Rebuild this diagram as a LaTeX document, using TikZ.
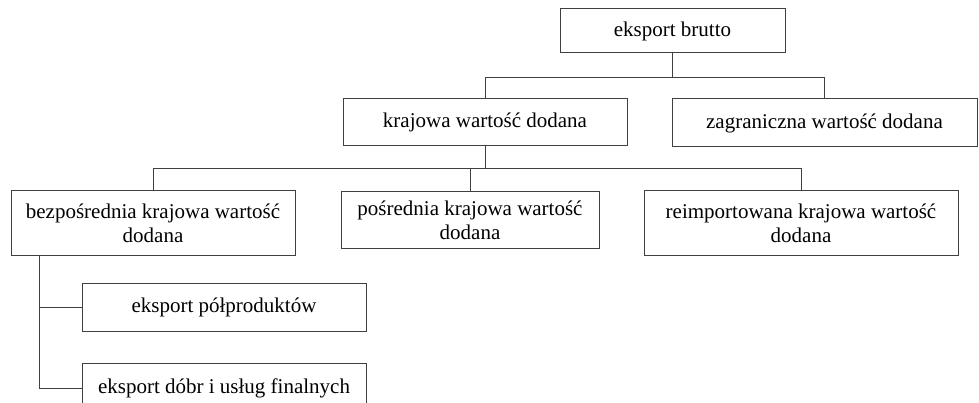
\documentclass[tikz,border=0pt]{standalone}
\usepackage{fontspec}
\setmainfont{Liberation Serif}
\begin{document}
\begin{tikzpicture}[
  box/.style={draw=black!75, line width=1pt, align=center, inner sep=0pt,
    font=\fontsize{21pt}{24pt}\selectfont},
  link/.style={draw=black!75, line width=1pt}]
\useasboundingbox (0pt,0pt) rectangle (979pt,-403pt);
\clip (0pt,0pt) rectangle (979pt,-403pt);
\node[box, minimum width=225pt, minimum height=44pt] (brutto) at (672.5pt,-31pt) {eksport brutto};
\node[box, minimum width=284pt, minimum height=47pt] (krajowa) at (485pt,-122.5pt) {krajowa wartość dodana};
\node[box, minimum width=305pt, minimum height=48pt] (zagr) at (824.5pt,-123pt) {zagraniczna wartość dodana};
\node[box, minimum width=284pt, minimum height=65pt] (bezp) at (153pt,-223.5pt) {bezpośrednia krajowa wartość\\dodana};
\node[box, minimum width=258pt, minimum height=57pt] (posr) at (470pt,-220.5pt) {pośrednia krajowa wartość\\dodana};
\node[box, minimum width=314pt, minimum height=65pt] (reimp) at (801pt,-223.5pt) {reimportowana krajowa wartość\\dodana};
\node[box, minimum width=284pt, minimum height=48pt] (polprod) at (224pt,-307pt) {eksport półproduktów};
\node[box, minimum width=284pt, minimum height=50pt] (finalne) at (224pt,-388pt) {eksport dóbr i usług finalnych};
% eksport brutto
\draw[link] (brutto.south) -- ++(0pt,-24pt) -| (krajowa.north);
\draw[link] (brutto.south) -- ++(0pt,-24pt) -| (zagr.north);
% krajowa wartosc dodana
\draw[link] (krajowa.south) -- ++(0pt,-22pt) -| (bezp.north);
\draw[link] (krajowa.south) -- ++(0pt,-22pt) -| (posr.north);
\draw[link] (krajowa.south) -- ++(0pt,-22pt) -| (reimp.north);
% bezposrednia
\draw[link] ([xshift=29pt]bezp.south west) |- (polprod.west);
\draw[link] ([xshift=29pt]bezp.south west) |- (finalne.west);
\end{tikzpicture}
\end{document}
